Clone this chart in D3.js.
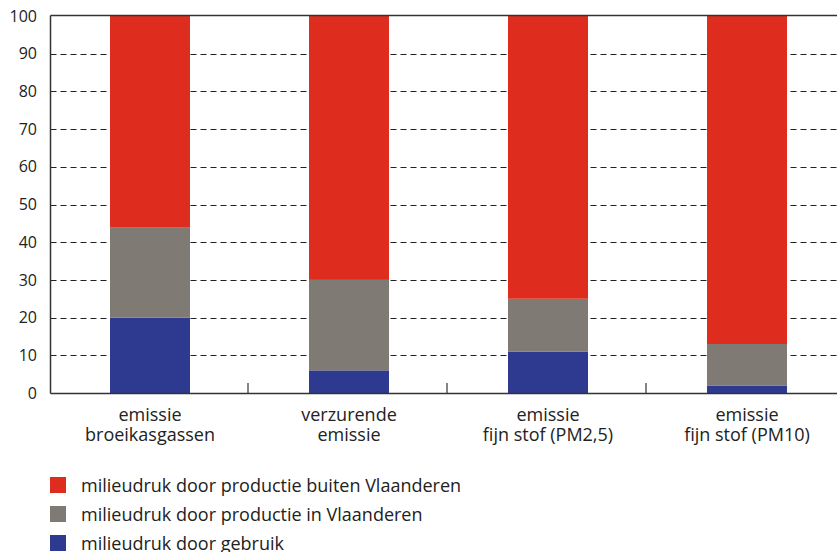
<!DOCTYPE html>
<html>
<head>
<meta charset="utf-8">
<script src="https://d3js.org/d3.v7.min.js"></script>
<style>
  body { margin: 0; background: #fff; }
  svg { display: block; font-family: "Open Sans", "Noto Sans", sans-serif; }
</style>
</head>
<body>
<div id="chart"></div>
<script>
// data (percent shares)
const categories = [
  ["emissie", "broeikasgassen"],
  ["verzurende", "emissie"],
  ["emissie", "fijn stof (PM2,5)"],
  ["emissie", "fijn stof (PM10)"]
];
const gebruik = [20, 6, 11, 2];
const productieIn = [24, 24, 14, 11];
const productieBuiten = [56, 70, 75, 87];
const yTicks = [0, 10, 20, 30, 40, 50, 60, 70, 80, 90, 100];

const seriesNames = [
  "milieudruk door gebruik",
  "milieudruk door productie in Vlaanderen",
  "milieudruk door productie buiten Vlaanderen"
];
const colors = ["#2e3a8f", "#7f7a73", "#de2c1e"];

const W = 837, H = 552;
const M = { left: 50.5, right: 846.5, top: 16, bottom: 393 };

const svg = d3.select("#chart").append("svg")
  .attr("width", W).attr("height", H);

const x = d3.scaleBand()
  .domain(d3.range(categories.length))
  .range([M.left, M.right])
  .paddingInner(0.598).paddingOuter(0.299);

const step = x.step();

const y = d3.scaleLinear().domain([0, 100]).range([M.bottom, M.top]);

// table for the stack
const table = categories.map((c, i) => ({
  i, g: gebruik[i], pin: productieIn[i], pbu: productieBuiten[i]
}));
const stack = d3.stack().keys(["g", "pin", "pbu"]);
const layers = stack(table);

// dashed gridlines
svg.append("g")
  .selectAll("line")
  .data(yTicks.filter(d => d > 0 && d < 100))
  .join("line")
  .attr("x1", M.left).attr("x2", W)
  .attr("y1", d => Math.round(y(d)) + 0.5)
  .attr("y2", d => Math.round(y(d)) + 0.5)
  .attr("stroke", "#222")
  .attr("stroke-width", 1)
  .attr("stroke-dasharray", "6,4");

// bars
svg.append("g")
  .selectAll("g")
  .data(layers)
  .join("g")
  .attr("fill", (d, i) => colors[i])
  .selectAll("rect")
  .data(d => d)
  .join("rect")
  .attr("x", d => x(d.data.i))
  .attr("width", x.bandwidth())
  .attr("y", d => y(d[1]))
  .attr("height", d => y(d[0]) - y(d[1]));

// frame: left axis, top line, bottom axis
svg.append("line")
  .attr("x1", M.left).attr("x2", M.left).attr("y1", M.top - 0.5).attr("y2", M.bottom + 0.5)
  .attr("stroke", "#333").attr("stroke-width", 1.5);
svg.append("line")
  .attr("x1", M.left).attr("x2", W).attr("y1", M.top - 0.5).attr("y2", M.top - 0.5)
  .attr("stroke", "#333").attr("stroke-width", 1.5);
svg.append("line")
  .attr("x1", M.left).attr("x2", W).attr("y1", M.bottom + 0.5).attr("y2", M.bottom + 0.5)
  .attr("stroke", "#333").attr("stroke-width", 1.5);

// inner ticks between categories
svg.append("g")
  .selectAll("line")
  .data(d3.range(1, categories.length))
  .join("line")
  .attr("x1", i => M.left + i * step - 1.5)
  .attr("x2", i => M.left + i * step - 1.5)
  .attr("y1", M.bottom - 10).attr("y2", M.bottom)
  .attr("stroke", "#333").attr("stroke-width", 1.2);

// y tick labels
svg.append("g")
  .selectAll("text")
  .data(yTicks)
  .join("text")
  .attr("x", 37)
  .attr("y", d => y(d))
  .attr("dy", "0.35em")
  .attr("text-anchor", "end")
  .attr("font-size", 16)
  .attr("fill", "#222")
  .text(d => d);

// category labels
const cat = svg.append("g")
  .selectAll("text")
  .data(categories)
  .join("text")
  .attr("text-anchor", "middle")
  .attr("font-size", 18)
  .attr("fill", "#222");
cat.selectAll("tspan")
  .data((d, i) => d.map(t => ({ t, i })))
  .join("tspan")
  .attr("x", d => x(d.i) + x.bandwidth() / 2)
  .attr("y", (d, j) => 421 + j * 20)
  .text(d => d.t);

// legend (top to bottom: buiten, in, gebruik)
const legendOrder = [2, 1, 0];
const lg = svg.append("g")
  .selectAll("g")
  .data(legendOrder)
  .join("g")
  .attr("transform", (d, k) => `translate(50,${477 + k * 29})`);
lg.append("rect")
  .attr("width", 16).attr("height", 16)
  .attr("fill", d => colors[d]);
lg.append("text")
  .attr("x", 31).attr("y", 15)
  .attr("font-size", 18)
  .attr("fill", "#222")
  .text(d => seriesNames[d]);
</script>
</body>
</html>
